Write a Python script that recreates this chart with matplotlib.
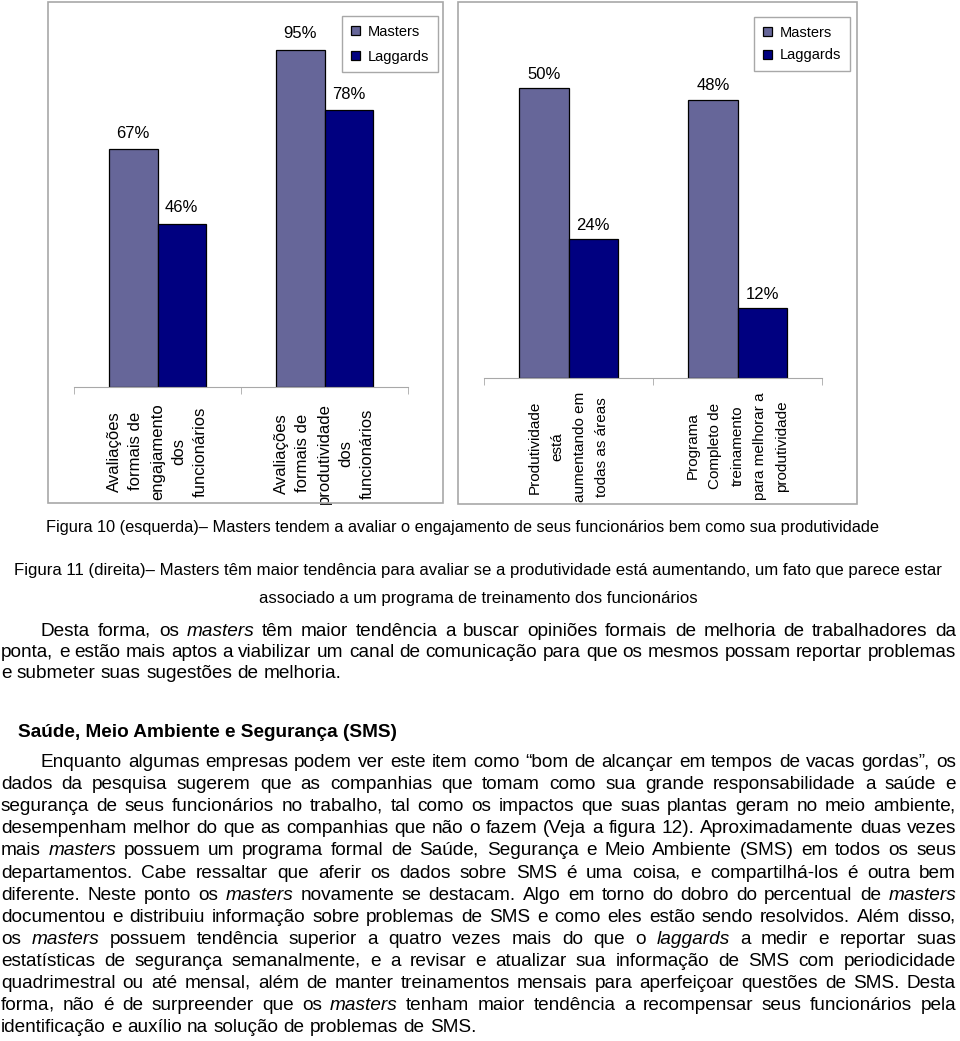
import numpy as np
import matplotlib
matplotlib.use('Agg')
import matplotlib.pyplot as plt
from matplotlib.patches import Rectangle

plt.rcParams['font.family'] = ['Liberation Sans', 'DejaVu Sans']

W, H = 960, 1041

# ── Dados dos gráficos ───────────────────────────────────────────────────────
series = ['Masters', 'Laggards']

cat_esq = ['Avaliações\nformais de\nengajamento\ndos\nfuncionários',
           'Avaliações\nformais de\nprodutividade\ndos\nfuncionários']
masters_esq = [67, 95]
laggards_esq = [46, 78]

cat_dir = ['Produtividade\nestá\naumentando em\ntodas as áreas',
           'Programa\nCompleto de\ntreinamento\npara melhorar a\nprodutividade']
masters_dir = [50, 48]
laggards_dir = [24, 12]

# ── Texto da página ──────────────────────────────────────────────────────────
legenda_10 = ('Figura 10 (esquerda)– Masters tendem a avaliar o engajamento de seus '
              'funcionários bem como sua produtividade')
legenda_11 = ['Figura 11 (direita)– Masters têm maior tendência para avaliar se a '
              'produtividade está aumentando, um fato que parece estar',
              'associado a um programa de treinamento dos funcionários']
paragrafo_1 = [
    'Desta forma, os *masters* têm maior tendência a buscar opiniões formais de melhoria de trabalhadores da',
    'ponta, e estão mais aptos a viabilizar um canal de comunicação para que os mesmos possam reportar problemas',
    'e submeter suas sugestões de melhoria.',
]
titulo_sms = 'Saúde, Meio Ambiente e Segurança (SMS)'
paragrafo_2 = [
    'Enquanto algumas empresas podem ver este item como “bom de alcançar em tempos de vacas gordas”, os',
    'dados da pesquisa sugerem que as companhias que tomam como sua grande responsabilidade a saúde e',
    'segurança de seus funcionários no trabalho, tal como os impactos que suas plantas geram no meio ambiente,',
    'desempenham melhor do que as companhias que não o fazem (Veja a figura 12). Aproximadamente duas vezes',
    'mais *masters* possuem um programa formal de Saúde, Segurança e Meio Ambiente (SMS) em todos os seus',
    'departamentos. Cabe ressaltar que aferir os dados sobre SMS é uma coisa, e compartilhá-los é outra bem',
    'diferente. Neste ponto os *masters* novamente se destacam. Algo em torno do dobro do percentual de *masters*',
    'documentou e distribuiu informação sobre problemas de SMS e como eles estão sendo resolvidos. Além disso,',
    'os *masters* possuem tendência superior a quatro vezes mais do que o *laggards* a medir e reportar suas',
    'estatísticas de segurança semanalmente, e a revisar e atualizar sua informação de SMS com periodicidade',
    'quadrimestral ou até mensal, além de manter treinamentos mensais para aperfeiçoar questões de SMS. Desta',
    'forma, não é de surpreender que os *masters* tenham maior tendência a recompensar seus funcionários pela',
    'identificação e auxílio na solução de problemas de SMS.',
]

COR_MASTERS = '#666699'
COR_LAGGARDS = '#000080'
COR_MOLDURA = '#a8a8a8'
FS_TEXTO = 13.7


def fx(x):
    return x / W


def fy(y):
    return 1 - y / H


fig = plt.figure(figsize=(W / 100, H / 100), dpi=100)


def grafico(box, moldura, cats, m, l, ymax, fs_tick, esp, pad_lbl, pad_tick,
            leg_pos, leg_esp):
    left, top, right, bottom = box
    ax = fig.add_axes([fx(left), fy(bottom), (right - left) / W, (bottom - top) / H])
    ax.patch.set_alpha(0)
    x = np.arange(len(cats))
    w = 0.29
    b1 = ax.bar(x - w / 2, m, w, color=COR_MASTERS, edgecolor='black', lw=0.9, label=series[0])
    b2 = ax.bar(x + w / 2, l, w, color=COR_LAGGARDS, edgecolor='black', lw=0.9, label=series[1])
    ax.bar_label(b1, labels=[f'{v}%' for v in m], padding=pad_lbl, fontsize=12)
    ax.bar_label(b2, labels=[f'{v}%' for v in l], padding=pad_lbl, fontsize=12)
    ax.set_xlim(-0.5, len(cats) - 0.5)
    ax.set_ylim(0, ymax)
    ax.set_yticks([])
    for s in ['left', 'top', 'right']:
        ax.spines[s].set_visible(False)
    ax.spines['bottom'].set_color(COR_MOLDURA)
    ax.set_xticks(x)
    ax.set_xticklabels(cats, rotation=90, fontsize=fs_tick, linespacing=esp)
    for t in ax.get_xticklabels():
        t.set_multialignment('center')
    ax.tick_params(axis='x', which='major', length=0, pad=pad_tick)
    ax.set_xticks(np.arange(-0.5, len(cats)), minor=True)
    ax.tick_params(axis='x', which='minor', length=5, color=COR_MOLDURA)

    ml, mt, mr, mb = moldura
    fig.patches.append(Rectangle((fx(ml), fy(mb)), (mr - ml) / W, (mb - mt) / H,
                                 transform=fig.transFigure, fill=False,
                                 edgecolor=COR_MOLDURA, lw=1.2))
    fig.legend(handles=[b1, b2], labels=series, loc='upper left',
               bbox_to_anchor=(fx(leg_pos[0]), fy(leg_pos[1])), fontsize=10.5,
               frameon=True, fancybox=False, edgecolor=COR_MOLDURA, framealpha=1,
               handlelength=0.65, handleheight=0.65, handletextpad=0.5,
               labelspacing=leg_esp, borderpad=0.6, borderaxespad=0)
    return ax


grafico((74, 32, 408, 387), (48, 2, 443, 503), cat_esq, masters_esq, laggards_esq,
        100, 12, 1.55, 6, 11.5, (342, 16), 0.75)
grafico((484, 30, 822, 378), (458, 2, 857, 504), cat_dir, masters_dir, laggards_dir,
        60, 11, 1.75, 4.5, 10, (754, 17), 0.6)

# ── Texto abaixo dos gráficos ────────────────────────────────────────────────
r = fig.canvas.get_renderer()


def largura(s, size, style):
    t = fig.text(0, 0, s, fontsize=size, style=style)
    wd = t.get_window_extent(renderer=r).width
    t.remove()
    return wd


def linha(texto, yb, x0, x1, size, justificar=True):
    """Escreve uma linha palavra a palavra (justificada), base em yb px do topo."""
    palavras = texto.split(' ')
    itens, larg = [], []
    for p in palavras:
        it = p.startswith('*') and p.endswith('*')
        estilo = 'italic' if it else 'normal'
        p = p.strip('*')
        larg.append(largura(p, size, estilo))
        itens.append((p, estilo))
    if justificar and len(itens) > 1:
        gap = (x1 - x0 - sum(larg)) / (len(itens) - 1)
    else:
        gap = 0.278 * size * 100 / 72
    xp = x0
    for (p, estilo), wd in zip(itens, larg):
        # a vírgula final vai num texto à parte, para não deslocar a palavra
        if p.endswith(',') and len(p) > 1:
            base = p[:-1]
            dx = largura(base, size, estilo) - 1.5
            fig.text(fx(xp), fy(round(yb)), base, fontsize=size, style=estilo,
                     va='baseline', ha='left')
            fig.text(fx(xp + dx), fy(round(yb)), ',', fontsize=size, style=estilo,
                     va='baseline', ha='left')
        else:
            fig.text(fx(xp), fy(round(yb)), p, fontsize=size, style=estilo,
                     va='baseline', ha='left')
        xp += wd + gap


fig.text(fx(462), fy(532), legenda_10, fontsize=11.8, ha='center', va='baseline')
fig.text(fx(478), fy(575), legenda_11[0], fontsize=12.1, ha='center', va='baseline')
fig.text(fx(478), fy(603), legenda_11[1], fontsize=12.1, ha='center', va='baseline')

bases_1 = [636, 657, 678]
for i, (s, yb) in enumerate(zip(paragrafo_1, bases_1)):
    linha(s, yb, 41 if i == 0 else 1, 956, FS_TEXTO, justificar=i < len(paragrafo_1) - 1)

fig.text(fx(18), fy(737), titulo_sms, fontsize=FS_TEXTO, fontweight='bold',
         ha='left', va='baseline')

for i, s in enumerate(paragrafo_2):
    yb = 767 + i * 22.1
    linha(s, yb, 41 if i == 0 else 1, 956, FS_TEXTO, justificar=i < len(paragrafo_2) - 1)

fig.savefig('out.png', dpi=100)
